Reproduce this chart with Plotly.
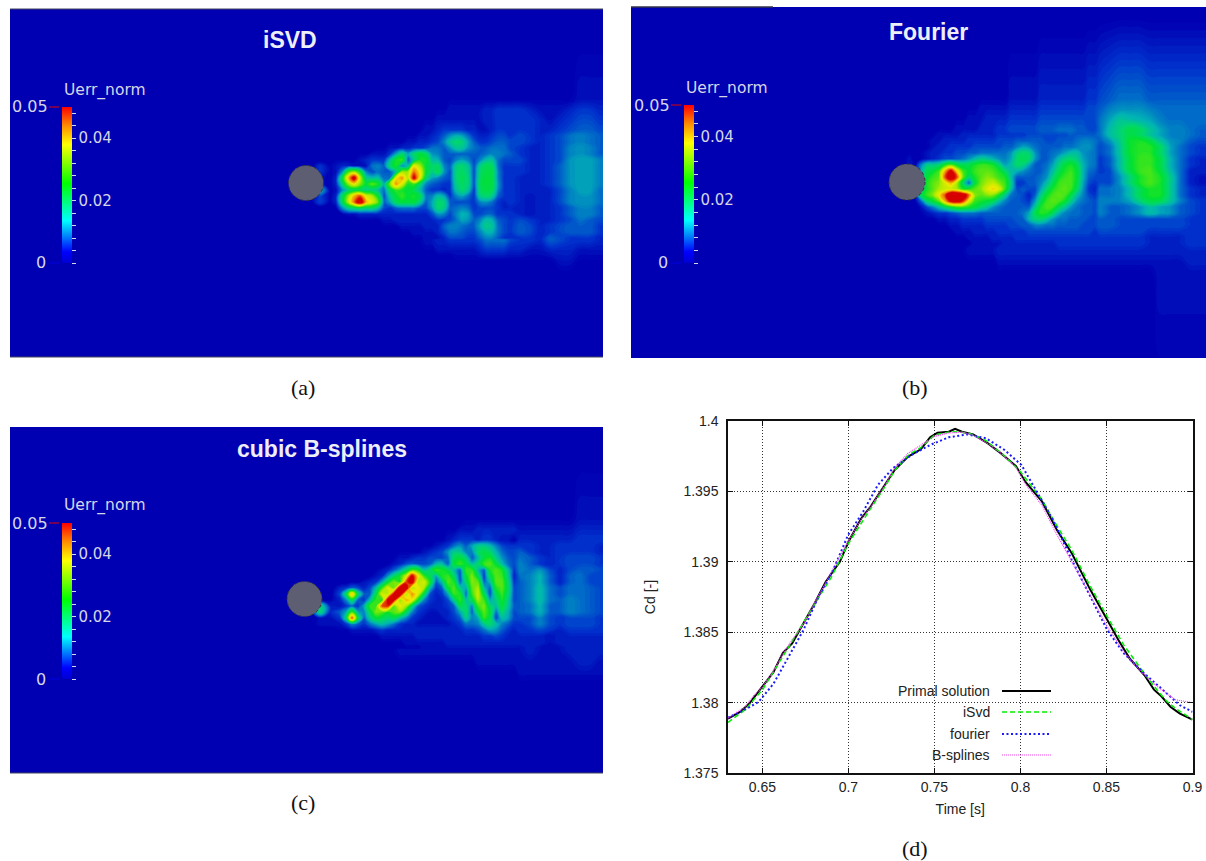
import plotly.graph_objects as go

W, H = 1206, 861

# ---------- line chart data (d) ----------
t_primal = [.63,.637,.6424,.65,.6565,.6619,.6673,.6738,.6803,.6868,.695,.70,.7074,.7128,.7193,.7269,.7345,.7421,.7475,.7518,.7583,.762,.766,.7725,.7811,.7887,.7974,.8028,.8126,.8212,.8299,.8407,.85,.857,.8635,.8721,.8776,.8819,.8873,.8927,.90]
cd_primal = [1.37886,1.37934,1.37993,1.38111,1.38218,1.38353,1.3842,1.38562,1.38704,1.38858,1.39,1.39142,1.39308,1.39391,1.39509,1.39652,1.39746,1.39799,1.39884,1.39917,1.39924,1.39945,1.39924,1.39905,1.39841,1.3977,1.3968,1.39569,1.39427,1.39225,1.39059,1.38799,1.38597,1.38443,1.38313,1.38194,1.38092,1.38045,1.37969,1.37922,1.37879]
t_isvd = [.63,.64,.65,.66,.667,.68,.69,.70,.708,.713,.72,.727,.735,.742,.75,.76,.77,.78,.79,.80,.8126,.82,.83,.84,.85,.86,.87,.88,.885,.89,.90]
cd_isvd = [1.3786,1.3795,1.3809,1.3829,1.3842,1.3868,1.3889,1.3913,1.3929,1.3938,1.3951,1.3965,1.3976,1.3981,1.3990,1.39925,1.39915,1.3986,1.3976,1.3964,1.3944,1.3928,1.3908,1.3884,1.3862,1.3841,1.3824,1.3808,1.3801,1.3796,1.3788]
t_fourier = [.63,.6391,.6478,.6565,.6652,.6738,.6825,.6911,.6998,.7085,.7171,.7258,.7366,.7475,.7583,.7691,.78,.7908,.8006,.8103,.819,.8299,.8407,.8505,.8602,.871,.8819,.8927,.90]
cd_fourier = [1.37893,1.37945,1.38005,1.38135,1.38325,1.38514,1.38751,1.38941,1.3919,1.39355,1.39545,1.39664,1.39758,1.3983,1.39884,1.39905,1.39877,1.39794,1.39687,1.39486,1.39296,1.39012,1.38751,1.38514,1.38348,1.38218,1.381,1.37981,1.37934]
t_bspline = [.63,.64,.645,.65,.656,.662,.667,.674,.68,.687,.70,.7074,.7128,.7193,.727,.7345,.742,.75,.758,.766,.7725,.781,.7887,.7974,.803,.8126,.82,.83,.84,.85,.86,.87,.88,.89,.895,.90]
cd_bspline = [1.3789,1.3797,1.3805,1.3811,1.3822,1.3835,1.3844,1.3856,1.387,1.3886,1.3915,1.393,1.3939,1.3951,1.3967,1.3977,1.3983,1.3989,1.39915,1.3992,1.399,1.3984,1.3977,1.3967,1.3955,1.394,1.3922,1.39,1.3877,1.3855,1.3836,1.3822,1.3811,1.3802,1.3801,1.38]
x_ticks = [.65,.7,.75,.8,.85,.9]
x_tick_text = ["0.65","0.7","0.75","0.8","0.85","0.9"]
y_ticks = [1.375,1.38,1.385,1.39,1.395,1.4]
y_tick_text = ["1.375","1.38","1.385","1.39","1.395","1.4"]

# ---------- error fields, in units of 1e-3 (cores saturate above the 50 of the scale) ----------
wake_x = list(range(280, 610, 10))   # panel a/c columns (panel b is +600)
wake_rows = list(range(0, 180, 10))  # offset below the first row

err_isvd = [
[0,0,0,0,0, 0,0,0,0,0, 0,0,0,0,0, 0,1,1,1,1, 1,1,1,1,1, 1,1,1,1,1, 2,2,2],
[0,0,0,0,0, 0,0,0,0,0, 0,0,0,0,1, 1,1,2,2,2, 2,3,4,4,4, 3,2,2,2,3, 4,4,3],
[0,0,0,0,0, 0,0,0,0,0, 0,0,0,1,1, 1,2,2,2,2, 2,3,4,4,4, 4,3,2,3,4, 5,5,4],
[0,0,0,0,0, 0,0,0,0,0, 0,1,1,1,1, 2,3,4,4,3, 3,3,4,4,4, 4,3,3,4,5, 6,6,5],
[0,0,0,0,0, 0,0,0,0,1, 1,1,2,2,3, 6,13,16,14,9, 7,7,7,5,5, 4,3,4,5,7, 8,7,6],
[0,0,0,0,0, 0,0,0,1,2, 3,4,8,7,12, 12,8,9,12,7, 10,9,7,5,4, 3,3,4,5,8, 9,8,6],
[0,0,0,0,0, 0,1,2,3,4, 6,15,24,14,22, 16,9,6,12,7, 15,16,10,5,5, 3,3,4,5,9, 10,10,8],
[0,0,0,0,4, 3,4,24,12,3, 12,18,20,32,38, 18,10,5,16,8, 19,19,10,5,4, 3,3,4,6,9, 10,10,8],
[0,0,0,0,2, 2,6,46,30,20, 17,26,36,25,20, 12,5,4,16,8, 20,20,9,4,3, 3,3,4,6,9, 10,10,8],
[0,0,0,0,12, 3,6,14,12,8, 6,12,18,19,17, 6,6,4,12,6, 18,17,8,4,3, 3,3,3,5,8, 10,10,7],
[0,0,0,0,5, 2,12,36,48,32, 10,12,18,18,12, 6,14,6,5,5, 11,10,5,4,3, 2,3,3,5,8, 9,9,7],
[0,0,0,0,0, 0,2,7,10,12, 8,6,6,7,5, 5,13,6,8,6, 5,6,4,4,3, 2,3,3,4,6, 8,8,6],
[0,0,0,0,0, 0,0,1,2,3, 3,3,3,3,3, 4,6,6,11,7, 10,14,10,4,5, 4,3,3,4,5, 7,6,5],
[0,0,0,0,0, 0,0,0,1,1, 2,2,2,2,2, 3,5,6,6,5, 8,8,8,4,6, 5,3,4,5,6, 6,6,4],
[0,0,0,0,0, 0,0,0,0,0, 1,1,1,1,1, 2,3,4,4,4, 5,7,7,5,4, 4,3,6,5,4, 4,4,3],
[0,0,0,0,0, 0,0,0,0,0, 0,0,0,0,0, 1,2,2,2,2, 3,4,4,3,3, 2,2,3,3,3, 2,2,2],
[0,0,0,0,0, 0,0,0,0,0, 0,0,0,0,0, 0,0,0,1,1, 1,1,1,1,1, 1,1,1,2,2, 1,1,1],
[0,0,0,0,0, 0,0,0,0,0, 0,0,0,0,0, 0,0,0,0,0, 0,0,1,1,1, 1,1,1,1,1, 1,1,1],
]

err_fourier = [
[0,0,0,0,0, 0,0,0,0,0, 1,1,1,2,2, 2,3,3,3,3, 3,4,5,6,7, 7,7,6,6,6, 6,6,6],
[0,0,0,0,0, 0,0,1,1,1, 2,2,2,3,3, 3,4,4,4,4, 4,5,6,8,9, 9,9,8,7,7, 7,7,7],
[0,0,0,0,0, 0,1,1,1,2, 2,3,3,4,4, 4,5,5,5,5, 5,5,7,10,13, 12,11,10,8,7, 7,7,7],
[0,0,0,0,0, 1,1,1,2,2, 3,3,4,5,5, 5,6,6,7,7, 6,5,7,12,15, 19,17,13,10,8, 8,7,6],
[0,0,0,0,1, 1,1,2,2,3, 3,4,5,6,7, 7,7,8,9,10, 8,5,6,9,14, 21,22,19,13,9, 8,6,5],
[0,0,0,1,1, 2,3,3,4,5, 5,6,7,9,12, 12,9,11,14,14, 11,6,5,7,13, 21,23,23,17,10, 7,5,4],
[0,0,0,2,2, 5,8,10,11,13, 14,14,13,15,17, 14,8,15,20,20, 14,7,4,6,12, 20,24,24,19,11, 7,4,3],
[0,0,1,1,3, 18,26,33,26,25, 24,24,26,14,15, 12,11,16,24,24, 15,7,4,5,11, 19,24,25,20,12, 7,3,3],
[0,0,1,1,4, 22,30,50,26,12, 26,30,34,22,4, 6,14,22,26,25, 14,7,5,5,9, 15,22,25,22,14, 7,3,2],
[0,0,1,1,6, 22,30,28,32,28, 26,32,38,18,6, 5,18,24,26,22, 12,8,7,7,8, 12,18,22,22,14, 7,4,3],
[0,0,1,1,18, 24,30,50,50,48, 28,26,22,12,7, 4,20,26,25,18, 10,8,8,8,8, 10,15,19,18,13, 8,5,4],
[0,0,1,1,2, 8,12,18,20,20, 18,16,12,8,8, 10,24,25,20,12, 8,8,8,6,6, 7,9,12,10,9, 6,5,4],
[0,0,0,1,1, 2,3,4,5,6, 7,7,7,7,8, 12,20,19,14,9, 7,7,6,6,5, 5,5,5,5,5, 5,4,4],
[0,0,0,0,1, 1,2,3,4,4, 5,5,5,6,6, 7,8,7,7,6, 5,5,5,5,5, 5,5,4,4,4, 4,4,4],
[0,0,0,0,0, 1,1,2,2,3, 3,3,4,4,4, 4,5,5,4,4, 4,4,4,4,4, 4,4,3,3,3, 3,4,4],
[0,0,0,0,0, 0,1,1,1,2, 2,2,3,3,3, 3,3,3,3,3, 3,3,3,3,3, 3,3,3,3,3, 3,3,3],
[0,0,0,0,0, 0,0,0,1,1, 1,1,2,2,2, 2,2,2,2,2, 2,2,2,2,2, 2,2,2,2,2, 2,3,3],
[0,0,0,0,0, 0,0,0,0,0, 1,1,1,1,1, 1,1,1,1,1, 1,1,1,1,1, 1,1,1,2,2, 2,2,2],
]

err_bspline = [
[0,0,0,0,0, 0,0,0,0,0, 0,0,0,0,0, 0,0,0,0,1, 1,1,1,1,1, 1,1,1,1,1, 2,2,2],
[0,0,0,0,0, 0,0,0,0,0, 0,0,0,0,1, 1,1,1,2,2, 3,3,3,3,2, 2,2,2,2,2, 3,3,3],
[0,0,0,0,0, 0,0,0,0,0, 0,0,1,1,1, 2,2,3,3,3, 4,4,4,3,3, 3,3,3,3,3, 4,4,4],
[0,0,0,0,0, 0,0,0,0,0, 0,1,2,3,3, 4,6,8,12,16, 18,12,7,6,4, 4,3,3,4,4, 4,4,3],
[0,0,0,0,0, 0,0,0,0,1, 2,4,5,6,4, 6,10,9,22,7, 22,24,14,7,6, 6,4,3,4,5, 5,5,4],
[0,0,0,0,0, 0,0,0,1,2, 3,6,11,13,14, 10,22,18,6,20, 10,24,22,5,8, 7,9,5,3,5, 6,6,5],
[0,0,0,0,0, 0,0,0,2,4, 8,18,20,42,34, 20,9,24,12,22, 16,7,24,5,6, 8,11,6,3,6, 7,5,5],
[0,0,0,0,0, 0,2,8,6,7, 28,32,50,30,36, 12,6,18,24,22, 18,6,22,10,6, 8,12,7,5,7, 7,6,5],
[0,0,0,0,0, 1,2,30,8,12, 20,44,35,42,18, 8,4,10,22,24, 32,12,24,12,6, 8,12,7,6,8, 7,6,5],
[0,0,0,0,16, 3,5,12,6,8, 28,30,40,24,12, 6,4,5,12,4, 20,10,18,18,6, 7,11,6,6,8, 7,6,5],
[0,0,0,0,2, 2,4,24,14,12, 16,20,16,10,6, 5,4,5,6,14, 12,16,8,14,5, 5,8,5,4,5, 5,5,4],
[0,0,0,0,0, 0,1,2,2,4, 10,8,6,5,5, 4,4,4,4,5, 8,14,7,6,4, 4,5,4,3,4, 4,4,4],
[0,0,0,0,0, 0,0,0,1,1, 2,3,3,3,3, 3,3,3,3,3, 4,4,4,3,3, 3,3,2,3,3, 3,3,3],
[0,0,0,0,0, 0,0,0,0,0, 1,1,2,2,2, 2,2,2,2,2, 2,2,2,2,2, 3,2,2,2,3, 3,3,3],
[0,0,0,0,0, 0,0,0,0,0, 0,0,1,1,1, 1,1,1,1,1, 2,2,2,2,2, 2,2,2,2,2, 3,3,2],
[0,0,0,0,0, 0,0,0,0,0, 0,0,0,0,0, 0,1,1,1,1, 1,1,1,1,2, 2,2,2,2,2, 2,2,2],
[0,0,0,0,0, 0,0,0,0,0, 0,0,0,0,0, 0,0,0,0,0, 0,1,1,1,1, 1,1,1,1,1, 1,1,1],
[0,0,0,0,0, 0,0,0,0,0, 0,0,0,0,0, 0,0,0,0,0, 0,0,0,0,0, 0,0,0,1,1, 1,1,1],
]

# finer 6-px readings of the wake cores
isvd_detail_x = list(range(330, 516, 6))
isvd_detail_y = list(range(130, 244, 6))
err_isvd_detail = [
[0,0,0,0,0, 0,0,0,0,0, 0,0,0,0,1, 1,2,2,3,4, 4,4,4,3,3, 2,2,3,4,4, 4],
[0,0,0,0,0, 0,0,0,0,0, 0,0,1,1,1, 2,2,3,4,6, 9,11,10,7,4, 3,3,4,5,5, 4],
[0,0,0,0,0, 0,0,0,0,1, 1,1,1,2,2, 3,3,4,5,8, 13,16,15,10,6, 4,4,5,6,6, 5],
[0,0,0,0,0, 0,0,0,1,1, 2,2,3,3,4, 4,5,7,7,6, 9,13,13,9,7, 6,6,7,7,7, 5],
[0,0,0,0,1, 1,1,2,2,2, 4,10,16,10,16, 20,17,9,8,6, 6,6,6,6,6, 6,7,8,8,7, 6],
[1,1,1,1,1, 2,3,4,4,4, 12,22,24,6,14, 22,22,12,11,6, 5,8,10,8,5, 8,12,13,7,5, 5],
[1,2,3,3,2, 2,2,7,8,6, 16,22,8,12,36, 30,20,16,17,8, 6,14,16,13,5, 14,18,17,7,4, 4],
[1,2,8,24,30, 22,8,5,7,6, 6,12,30,30,44, 36,20,14,18,9, 5,15,17,14,5, 16,19,19,8,4, 4],
[1,3,18,38,54, 32,14,12,12,7, 7,36,42,30,52, 34,16,10,8,6, 5,15,18,15,5, 17,20,19,8,4, 4],
[1,3,14,28,36, 28,20,26,22,10, 28,42,34,22,24, 16,8,6,5,4, 4,14,17,15,5, 18,20,19,9,4, 4],
[1,2,8,14,16, 16,14,14,12,7, 18,24,22,20,18, 12,6,4,4,3, 4,12,16,13,4, 17,19,18,8,4, 4],
[1,3,16,28,40, 46,34,30,20,5, 14,20,24,20,22, 18,7,8,12,10, 4,8,10,7,4, 14,16,14,6,4, 4],
[1,3,16,30,44, 56,40,34,26,6, 10,18,20,20,20, 14,6,10,16,15, 6,5,5,5,4, 8,9,7,4,3, 4],
[0,1,8,14,16, 17,16,16,12,5, 4,6,7,7,7, 5,5,9,16,14, 6,7,8,7,4, 5,5,5,4,3, 3],
[0,0,1,2,2, 3,3,3,3,3, 3,3,3,3,3, 3,3,5,9,8, 5,8,11,10,5, 5,6,6,4,4, 4],
[0,0,0,0,0, 1,1,1,1,2, 2,3,3,3,3, 3,3,3,4,4, 5,7,10,9,6, 8,12,11,6,5, 4],
[0,0,0,0,0, 0,0,0,1,1, 1,1,2,2,2, 2,3,3,3,6, 8,8,7,6,6, 10,14,13,7,5, 4],
[0,0,0,0,0, 0,0,0,0,1, 1,1,1,1,2, 2,2,2,3,5, 7,7,6,5,5, 8,11,11,7,5, 4],
[0,0,0,0,0, 0,0,0,0,0, 1,1,1,1,1, 1,2,2,2,3, 5,5,5,4,4, 6,8,8,6,4, 4],
]

fourier_detail_x = list(range(915, 1101, 6))
fourier_detail_y = list(range(135, 249, 6))
err_fourier_detail = [
[0,0,1,1,2, 2,2,2,3,3, 3,3,3,3,4, 4,4,4,4,5, 5,5,5,5,5, 5,6,6,6,6, 6],
[0,1,1,2,2, 3,3,3,3,4, 4,4,4,4,5, 5,5,6,6,6, 6,6,5,5,6, 6,6,7,8,8, 7],
[0,1,1,2,3, 3,4,4,4,4, 5,5,5,5,5, 6,6,8,10,9, 7,6,6,6,6, 7,7,8,9,9, 7],
[0,1,2,3,3, 4,4,5,5,6, 6,7,7,7,7, 7,9,14,16,15, 9,6,6,7,8, 10,12,12,9,8, 7],
[0,1,2,3,4, 5,5,6,7,9, 12,14,13,11,9, 8,10,16,18,16, 9,6,6,8,12, 15,16,14,10,8, 7],
[1,8,14,14,16, 22,26,20,18,19, 22,24,24,22,16, 10,12,16,15,10, 6,6,7,10,15, 20,22,18,11,8, 7],
[1,10,18,20,24, 40,52,36,24,20, 24,26,26,25,22, 16,12,11,9,7, 6,6,8,12,18, 22,24,20,11,7, 6],
[1,12,20,24,26, 46,56,46,26,16, 22,26,28,27,24, 22,12,6,6,6, 6,7,9,15,21, 24,25,20,11,6, 5],
[1,12,22,26,28, 34,40,30,16,6, 20,27,30,32,28, 24,14,4,4,6, 6,8,12,18,24, 25,25,19,10,5, 4],
[1,14,22,26,30, 32,32,30,22,22, 26,28,34,38,34, 24,12,5,6,5, 5,10,16,22,25, 26,24,17,9,4, 3],
[1,18,24,28,36, 46,60,60,56,44, 28,26,28,28,22, 14,7,6,5,3, 6,14,21,25,26, 25,19,12,8,5, 4],
[1,6,16,20,26, 40,52,54,48,34, 24,22,20,18,12, 8,6,6,5,4, 9,18,24,26,25, 21,14,9,7,6, 5],
[0,2,5,8,12, 16,20,24,24,22, 20,16,13,9,7, 6,6,6,6,6, 13,22,25,24,18, 13,9,7,6,6, 5],
[0,1,2,3,4, 4,5,6,7,7, 7,6,6,6,6, 6,6,6,7,10, 18,23,22,17,11, 8,7,7,6,6, 5],
[0,0,1,1,2, 2,3,3,4,4, 4,4,5,5,5, 5,5,6,6,11, 15,16,13,9,7, 7,6,6,6,5, 5],
[0,0,0,1,1, 1,2,2,3,3, 3,3,4,4,4, 4,5,5,6,6, 8,8,7,7,6, 6,6,6,5,5, 5],
[0,0,0,0,1, 1,1,2,2,2, 3,3,3,3,4, 4,4,4,4,5, 5,5,5,5,5, 5,5,5,5,5, 4],
[0,0,0,0,0, 1,1,1,1,2, 2,2,2,3,3, 3,3,4,4,4, 4,4,4,4,4, 4,4,4,4,4, 4],
[0,0,0,0,0, 0,1,1,1,1, 2,2,2,2,2, 3,3,3,3,3, 3,3,3,3,4, 4,4,4,4,4, 4],
]

bspline_detail_x = list(range(340, 526, 6))
bspline_detail_y = list(range(540, 654, 6))
err_bspline_detail = [
[0,0,0,0,0, 0,0,0,0,0, 0,0,0,0,0, 1,1,1,2,3, 4,4,4,3,4, 4,3,2,2,1, 3],
[0,0,0,0,0, 0,0,0,0,0, 0,0,1,1,1, 1,2,3,4,7, 9,6,10,14,14, 12,8,5,4,4, 4],
[0,0,0,0,0, 0,0,0,0,1, 1,1,1,1,2, 3,4,5,9,14, 13,8,8,16,19, 16,11,7,5,5, 6],
[0,0,0,0,0, 0,0,0,1,1, 2,2,3,4,4, 5,5,5,7,18, 20,15,6,12,20, 22,14,9,6,5, 7],
[0,0,0,0,0, 0,0,0,1,2, 3,5,6,5,5, 6,11,12,6,20, 24,20,12,16,24, 26,20,12,7,5, 8],
[0,0,0,0,0, 0,1,2,3,6, 10,16,24,22,12, 16,24,22,18,12, 6,24,24,12,6, 22,26,22,12,4, 8],
[0,0,0,0,0, 1,2,3,9,16, 22,32,52,36,24, 18,10,22,24,16, 5,20,28,18,4, 18,26,24,14,3, 7],
[0,0,1,1,2, 3,4,10,20,28, 22,46,54,30,34, 22,6,12,26,22, 6,16,28,26,6, 12,26,26,16,4, 6],
[3,4,6,5,3, 5,12,24,34,26, 56,56,30,36,30, 12,4,6,20,26, 14,10,26,30,12, 6,22,26,17,5, 6],
[5,16,40,16,6, 6,18,34,30,52, 56,30,42,34,18, 5,3,4,10,24, 22,6,24,32,18, 5,18,24,16,5, 6],
[3,8,18,6,4, 12,24,22,54,50, 28,40,36,20,8, 4,3,3,5,14, 24,12,18,30,24, 10,14,22,14,5, 6],
[2,4,6,4,10, 24,24,46,48,26, 36,30,16,6,4, 3,3,3,4,6, 18,16,8,24,28, 16,12,20,13,6, 6],
[6,10,24,10,8, 18,28,26,22,26, 28,18,8,4,3, 2,2,3,3,5, 10,17,6,18,26, 20,7,16,11,5, 6],
[4,14,46,18,6, 14,20,18,16,18, 12,8,4,3,2, 2,2,2,3,4, 6,14,8,10,24, 18,5,12,10,5, 5],
[2,4,8,6,4, 7,10,12,10,7, 4,3,3,2,2, 2,2,2,2,3, 4,7,7,8,13, 16,12,8,6,4, 4],
[1,1,2,2,2, 2,3,4,3,3, 3,3,3,3,3, 3,3,3,3,3, 3,4,4,5,7, 10,9,6,4,3, 4],
[0,0,1,1,1, 1,1,2,2,2, 2,2,2,3,3, 3,3,3,3,3, 3,3,3,3,4, 4,5,4,3,3, 3],
[0,0,0,0,1, 1,1,1,1,1, 1,2,2,2,2, 2,2,2,3,3, 3,3,3,3,3, 3,3,3,3,3, 3],
[0,0,0,0,0, 0,1,1,1,1, 1,1,1,1,2, 2,2,2,2,2, 2,2,2,2,2, 2,2,2,2,2, 2],
]

colorbar_ticks = [0,.004,.008,.012,.016,.02,.024,.028,.032,.036,.04,.044,.048]
colorbar_text = ["","","","","","0.02","","","","","0.04","",""]

# colours of the legend bar
bar_scale = [[0,"rgb(0,0,210)"],[.07,"rgb(0,0,255)"],[.27,"rgb(0,255,255)"],[.51,"rgb(0,255,0)"],
             [.76,"rgb(255,255,0)"],[.88,"rgb(255,140,0)"],[1,"rgb(255,0,0)"]]
# colours of the shaded field (dimmer than the bar)
field_scale = [[0,"rgb(0,0,178)"],[.06,"rgb(0,50,205)"],[.12,"rgb(0,110,200)"],[.2,"rgb(0,180,180)"],
               [.3,"rgb(0,215,110)"],[.4,"rgb(0,225,50)"],[.5,"rgb(80,230,20)"],[.6,"rgb(180,235,0)"],
               [.72,"rgb(238,235,0)"],[.86,"rgb(240,130,0)"],[1,"rgb(215,0,0)"]]

SANS = "Liberation Sans"
PV = "DejaVu Sans"
PV_COL = "#d6d6e6"

fig = go.Figure()
annos, shapes = [], []

def fx(px): return px / W
def fy(px): return 1 - px / H

def text(x, y, s, size, color, family=SANS, anchor="center", bold=False):
    annos.append(dict(xref="paper", yref="paper", x=fx(x), y=fy(y), text=f"<b>{s}</b>" if bold else s,
                      showarrow=False, xanchor=anchor, yanchor="middle",
                      font=dict(size=size, color=color, family=family)))

def paper_line(x0, y0, x1, y1, color, width=1, dash="solid"):
    shapes.append(dict(type="line", xref="paper", yref="paper", x0=fx(x0), y0=fy(y0), x1=fx(x1), y1=fy(y1),
                       line=dict(color=color, width=width, dash=dash)))

def nearest(values, v):
    return min(range(len(values)), key=lambda i: abs(values[i] - v))

def merge_grids(bx, by, bz, dx_, dy_, dz):
    """One grid: the fine readings inside their box, the coarse readings elsewhere."""
    xs = [v for v in bx if v < dx_[0]] + list(dx_) + [v for v in bx if v > dx_[-1]]
    ys = [v for v in by if v < dy_[0]] + list(dy_) + [v for v in by if v > dy_[-1]]
    z = []
    for y in ys:
        row = []
        for x in xs:
            if dx_[0] <= x <= dx_[-1] and dy_[0] <= y <= dy_[-1]:
                row.append(dz[dy_.index(y)][dx_.index(x)] * 0.001)
            else:
                row.append(bz[nearest(by, y)][nearest(bx, x)])
        z.append(row)
    return xs, ys, z

def panel(idx, box, field, detail, dx, y0, title, title_xy, circle, bar_left, bar_top, bar_bottom):
    left, top, right, bottom = box
    xname, yname = f"xaxis{idx}", f"yaxis{idx}"
    bx = [left] + [v + dx for v in wake_x] + [right]
    by = [top] + [y0 + v for v in wake_rows] + [bottom]
    zero_row = [0] * len(bx)
    bz = [zero_row] + [[0] + [v * 0.001 for v in row] + [row[-1] * 0.001] for row in field] + \
         [[0] + [v * 0.0005 for v in field[-1]] + [field[-1][-1] * 0.0005]]
    xs, ys, z = merge_grids(bx, by, bz, *detail)
    fig.add_trace(go.Contour(x=xs, y=ys, z=z, xaxis=f"x{idx}", yaxis=f"y{idx}", zmin=0, zmax=0.05,
                             autocontour=False, contours=dict(coloring="fill", start=0.001, end=0.05, size=0.0005),
                             line=dict(width=0, smoothing=1.3),
                             colorscale=field_scale, hoverinfo="skip", showscale=False))
    # legend bar carried by an off-range, fully transparent marker
    fig.add_trace(go.Scatter(
        x=[left - 50], y=[top - 50], mode="markers", xaxis=f"x{idx}", yaxis=f"y{idx}", hoverinfo="skip",
        marker=dict(color=[0], cmin=0, cmax=0.05, colorscale=bar_scale, opacity=0, showscale=True,
                    colorbar=dict(x=fx(bar_left), xanchor="left", y=fy(bar_top), yanchor="top",
                      len=bar_bottom - bar_top, lenmode="pixels", thickness=10, thicknessmode="pixels",
                      xpad=0, ypad=0, outlinewidth=0, borderwidth=0, bgcolor="rgba(0,0,0,0)",
                      tickmode="array", tickvals=colorbar_ticks, ticktext=colorbar_text,
                      ticks="outside", ticklen=4, tickwidth=1, tickcolor=PV_COL,
                      tickfont=dict(size=15, color=PV_COL, family=PV)))))
    fig.layout[xname] = dict(domain=[fx(left), fx(right)], range=[left, right], visible=False)
    fig.layout[yname] = dict(domain=[fy(bottom), fy(top)], range=[bottom, top], visible=False)
    cx, cy, r = circle
    shapes.append(dict(type="circle", xref=f"x{idx}", yref=f"y{idx}", x0=cx - r, x1=cx + r, y0=cy - r, y1=cy + r,
                       fillcolor="#5e5e72", line=dict(color="#333344", width=1, dash="dot"), layer="above"))
    text(title_xy[0], title_xy[1], title, 23, "#eeeef8", SANS, bold=True)
    text(bar_left, bar_top - 17, "Uerr_norm", 15.5, PV_COL, PV, "left")
    text(bar_left - 12, bar_top, "0.05", 16, PV_COL, PV, "right")
    text(bar_left - 14, bar_bottom, "0", 16, PV_COL, PV, "right")
    paper_line(bar_left - 13, bar_top, bar_left - 3, bar_top, "#e00000")
    paper_line(bar_left - 13, bar_bottom, bar_left - 3, bar_bottom, "#0000e0")

panel(1, (10, 9, 603, 357), err_isvd, (isvd_detail_x, isvd_detail_y, err_isvd_detail), 0, 100,
      "iSVD", (290, 40), (306, 183, 17.5), 62, 107, 263)
panel(2, (631, 7, 1206, 358), err_fourier, (fourier_detail_x, fourier_detail_y, err_fourier_detail), 600, 100,
      "Fourier", (928, 32), (907, 182, 18), 684, 105, 263)
panel(3, (10, 427, 603, 773), err_bspline, (bspline_detail_x, bspline_detail_y, err_bspline_detail), 0, 520,
      "cubic B-splines", (322, 449), (304.5, 599, 17.5), 62, 523, 679)

paper_line(10, 9, 603, 9, "#44465c")
paper_line(10, 357, 603, 357, "#44465c")
paper_line(631, 7, 773, 7, "#33334a", 1.5)
paper_line(10, 773, 603, 773, "#44465c")

# ---------- line chart ----------
for name, tx, ty, col, wid, dash in [
    ("Primal solution", t_primal, cd_primal, "#000000", 2, "solid"),
    ("iSvd", t_isvd, cd_isvd, "#00f000", 1.5, "5px,3px"),
    ("fourier", t_fourier, cd_fourier, "#1a1aff", 2, "2px,2.5px"),
    ("B-splines", t_bspline, cd_bspline, "#f040f0", 1.2, "1px,1px"),
]:
    fig.add_trace(go.Scatter(x=tx, y=ty, name=name, mode="lines", xaxis="x4", yaxis="y4", showlegend=False,
                             line=dict(color=col, width=wid, dash=dash)))

axis_common = dict(showline=True, linecolor="#111111", linewidth=1.5, mirror="ticks", ticks="inside", ticklen=5,
                   tickcolor="#111111", showgrid=True, gridcolor="#333333", griddash="1px,2px", gridwidth=1,
                   zeroline=False, tickfont=dict(size=14, family=SANS, color="#222222"))
fig.layout.xaxis4 = dict(domain=[fx(728), fx(1192.5)], range=[.63, .9], anchor="y4", tickmode="array",
                         tickvals=x_ticks, ticktext=x_tick_text,
                         title=dict(text="Time [s]", standoff=11, font=dict(size=14, family=SANS, color="#222222")),
                         **axis_common)
fig.layout.yaxis4 = dict(domain=[fy(773), fy(421)], range=[1.375, 1.4], anchor="x4", tickmode="array",
                         tickvals=y_ticks, ticktext=y_tick_text, ticklabelstandoff=5,
                         title=dict(text="Cd [-]", standoff=25, font=dict(size=14, family=SANS, color="#222222")),
                         **axis_common)

# key box that hides the grid behind it, as in the reference
shapes.append(dict(type="rect", xref="x4", yref="y4", x0=.7085, x1=.823, y0=1.375, y1=1.3816,
                   fillcolor="white", line=dict(width=0), layer="below"))
for label, y, col, wid, dash in [
    ("Primal solution", 691, "#000000", 2, "solid"),
    ("iSvd", 712, "#00f000", 1.5, "5px,3px"),
    ("fourier", 734, "#1a1aff", 2, "2px,2.5px"),
    ("B-splines", 755, "#f040f0", 1.2, "1px,1px"),
]:
    text(992, y, label, 14, "#222222", SANS, "right")
    paper_line(1002, y, 1051, y, col, wid, dash)

# ---------- captions ----------
for s, x, y in [("(a)", 303, 387), ("(b)", 915, 387), ("(c)", 303, 802), ("(d)", 915, 848)]:
    text(x, y, s, 22, "#111111", "Liberation Serif")

fig.update_layout(width=W, height=H, margin=dict(l=0, r=0, t=0, b=0, autoexpand=False),
                  paper_bgcolor="white", plot_bgcolor="white", showlegend=False,
                  annotations=annos, shapes=shapes)
fig.write_html("out.html", post_script="document.body.style.margin='0';", config={"displayModeBar": False})
